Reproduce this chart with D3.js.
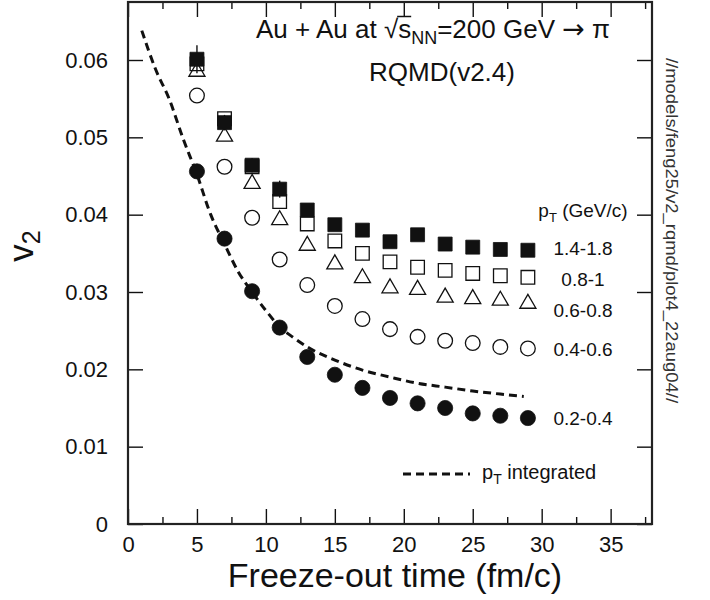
<!DOCTYPE html>
<html>
<head>
<meta charset="utf-8">
<script src="https://cdn.jsdelivr.net/npm/d3@7"></script>
<style>
  body { margin: 0; background: #fff; }
  svg { display: block; font-family: "Liberation Sans", Arial, Helvetica, sans-serif; }
</style>
</head>
<body>
<svg id="chart" width="710" height="600"></svg>
<script>
// freeze-out times (fm/c)
const times = [5, 7, 9, 11, 13, 15, 17, 19, 21, 23, 25, 27, 29]

// v2 per pT bin
const v2_14_18 = [0.0601, 0.0519, 0.0464, 0.0433, 0.0406, 0.0387, 0.0380, 0.0365, 0.0374, 0.0362, 0.0358, 0.0355, 0.0354]
const err_14_18 = [0.0018, 0.0010, 0.0009, 0.0011, 0.0007, 0.0006, 0.0006, 0.0006, 0.0006, 0.0006, 0.0006, 0.0006, 0.0006]
const v2_08_1 = [0.0595, 0.0524, 0.0462, 0.0417, 0.0388, 0.0366, 0.0350, 0.0339, 0.0332, 0.0328, 0.0324, 0.0321, 0.0319]
const v2_06_08 = [0.0585, 0.0501, 0.0440, 0.0393, 0.0360, 0.0336, 0.0318, 0.0305, 0.0303, 0.0293, 0.0291, 0.0289, 0.0285]
const v2_04_06 = [0.0554, 0.0462, 0.0396, 0.0342, 0.0309, 0.0282, 0.0265, 0.0252, 0.0242, 0.0237, 0.0234, 0.0229, 0.0227]
const v2_02_04 = [0.0456, 0.0369, 0.0301, 0.0254, 0.0216, 0.0193, 0.0176, 0.0163, 0.0156, 0.0150, 0.0143, 0.0140, 0.0137]

// pT integrated curve
const intTimes = [1, 2, 3, 4, 5, 6, 7, 8, 9, 10, 11, 12, 13, 15, 17, 19, 21, 23, 25, 27, 28.7]
const intV2 = [0.0638, 0.0588, 0.0549, 0.0498, 0.0452, 0.0400, 0.0362, 0.0326, 0.0300, 0.0276, 0.0255, 0.0241, 0.0229, 0.0212, 0.0199, 0.0190, 0.0182, 0.0177, 0.0172, 0.0168, 0.0165]

const ptLabels = ["1.4-1.8", "0.8-1", "0.6-0.8", "0.4-0.6", "0.2-0.4"]

const xTicks = [0, 5, 10, 15, 20, 25, 30, 35]
const xMinorTicks = [2.5, 7.5, 12.5, 17.5, 22.5, 27.5, 32.5, 37.5]
const yTicks = [0, 0.01, 0.02, 0.03, 0.04, 0.05, 0.06]
const yTickLabels = ["0", "0.01", "0.02", "0.03", "0.04", "0.05", "0.06"]

const ink = "#111"

const svg = d3.select("#chart")
const margin = {top: 2, right: 58, bottom: 76, left: 128}
const W = 710, H = 600

const x = d3.scaleLinear().domain([0, 38]).range([margin.left, W - margin.right])
const y = d3.scaleLinear().domain([0, 0.0675]).range([H - margin.bottom, margin.top])

const x0 = x.range()[0], x1 = x.range()[1]
const y0 = y.range()[0], y1 = y.range()[1]

// ticks pointing inward on all four sides
function ticks(axis, tr, vals, size) {
  svg.append("g")
    .attr("transform", tr)
    .call(axis.tickValues(vals).tickSize(size).tickFormat(""))
    .call(g => g.select(".domain").remove())
    .call(g => g.selectAll("line").attr("stroke", ink).attr("stroke-width", 1.4))
}
ticks(d3.axisTop(x), `translate(0,${y0})`, xTicks, 15)
ticks(d3.axisTop(x), `translate(0,${y0})`, xMinorTicks, 7)
ticks(d3.axisBottom(x), `translate(0,${y1})`, xTicks, 15)
ticks(d3.axisBottom(x), `translate(0,${y1})`, xMinorTicks, 7)
ticks(d3.axisRight(y), `translate(${x0},0)`, yTicks, 15)
ticks(d3.axisLeft(y), `translate(${x1},0)`, yTicks, 15)

// tick labels
svg.append("g")
  .attr("transform", `translate(0,${y0})`)
  .call(d3.axisBottom(x).tickValues(xTicks).tickSize(0).tickPadding(12))
  .call(g => g.select(".domain").remove())
  .call(g => g.selectAll("text").attr("font-size", 22).attr("fill", ink).attr("font-family", null))

svg.append("g")
  .attr("transform", `translate(${x0},0)`)
  .call(d3.axisLeft(y).tickValues(yTicks).tickSize(0).tickPadding(20).tickFormat((d, i) => yTickLabels[i]))
  .call(g => g.select(".domain").remove())
  .call(g => g.selectAll("text").attr("font-size", 22).attr("fill", ink).attr("font-family", null))

// frame
svg.append("rect")
  .attr("x", x0).attr("y", y1)
  .attr("width", x1 - x0).attr("height", y0 - y1)
  .attr("fill", "none").attr("stroke", "#222").attr("stroke-width", 2.2)

// axis titles
svg.append("text")
  .attr("x", 395).attr("y", 587)
  .attr("text-anchor", "middle").attr("font-size", 34).attr("fill", ink)
  .text("Freeze-out time (fm/c)")

const yt = svg.append("text")
  .attr("transform", "translate(33,246) rotate(-90)")
  .attr("text-anchor", "middle").attr("font-size", 35).attr("fill", ink)
yt.append("tspan").text("v")
yt.append("tspan").attr("font-size", 25).attr("dy", 7).text("2")

// title
const t1 = svg.append("text")
  .attr("x", 433).attr("y", 38)
  .attr("text-anchor", "middle").attr("font-size", 26).attr("fill", ink)
t1.append("tspan").text("Au + Au at \u221As")
t1.append("tspan").attr("font-size", 18).attr("dy", 6).text("NN")
t1.append("tspan").attr("dy", -6).text("=200 GeV ")
t1.append("tspan").attr("font-family", "DejaVu Sans").attr("font-size", 27).text("\u2192")
t1.append("tspan").text(" \u03C0")

// bar over the s of the square root
const tn = t1.node()
const eRoot = tn.getExtentOfChar(11), eS = tn.getExtentOfChar(12)
svg.append("line")
  .attr("x1", eRoot.x + eRoot.width - 1).attr("x2", eS.x + eS.width)
  .attr("y1", eRoot.y + 2.5).attr("y2", eRoot.y + 2.5)
  .attr("stroke", ink).attr("stroke-width", 1.5)

svg.append("text")
  .attr("x", 442).attr("y", 81)
  .attr("text-anchor", "middle").attr("font-size", 26).attr("fill", ink)
  .text("RQMD(v2.4)")

// side note
svg.append("text")
  .attr("transform", "translate(666,58) rotate(90)")
  .attr("font-size", 16).attr("fill", "#333")
  .attr("textLength", 345).attr("lengthAdjust", "spacingAndGlyphs")
  .text("//models/feng25/v2_rqmd/plot4_22aug04//")

// pT integrated dashed curve
const line = d3.line().x(d => x(d[0])).y(d => y(d[1])).curve(d3.curveMonotoneX)
svg.append("path")
  .datum(intTimes.map((t, i) => [t, intV2[i]]))
  .attr("d", line)
  .attr("fill", "none").attr("stroke", ink).attr("stroke-width", 3)
  .attr("stroke-dasharray", "8,5")

// markers
const series = [
  {vals: v2_02_04, shape: d3.symbolCircle, size: 180, fill: ink},
  {vals: v2_04_06, shape: d3.symbolCircle, size: 170, fill: "none"},
  {vals: v2_06_08, shape: d3.symbolTriangle, size: 112, fill: "none"},
  {vals: v2_08_1, shape: d3.symbolSquare, size: 185, fill: "none"},
  {vals: v2_14_18, shape: d3.symbolSquare, size: 195, fill: ink, err: err_14_18}
]

series.forEach(s => {
  if (s.err) {
    svg.append("g").selectAll("line")
      .data(times)
      .join("line")
      .attr("x1", d => x(d)).attr("x2", d => x(d))
      .attr("y1", (d, i) => y(s.vals[i] - s.err[i]))
      .attr("y2", (d, i) => y(s.vals[i] + s.err[i]))
      .attr("stroke", ink).attr("stroke-width", 1.4)
  }
  svg.append("g").selectAll("path")
    .data(times)
    .join("path")
    .attr("transform", (d, i) => `translate(${x(d)},${y(s.vals[i])})`)
    .attr("d", d3.symbol().type(s.shape).size(s.size))
    .attr("fill", s.fill)
    .attr("stroke", ink).attr("stroke-width", s.fill === "none" ? 1.3 : 0.8)
})

// legend
const lx = 583
const labelY = [255, 286, 317, 356, 425]
const hdr = svg.append("text")
  .attr("x", lx).attr("y", 217)
  .attr("text-anchor", "middle").attr("font-size", 19).attr("fill", ink)
hdr.append("tspan").text("p")
hdr.append("tspan").attr("font-size", 13).attr("dy", 5).text("T")
hdr.append("tspan").attr("dy", -5).text(" (GeV/c)")

svg.append("g").selectAll("text")
  .data(ptLabels)
  .join("text")
  .attr("x", lx).attr("y", (d, i) => labelY[i])
  .attr("text-anchor", "middle").attr("font-size", 19).attr("fill", ink)
  .text(d => d)

svg.append("line")
  .attr("x1", 403).attr("x2", 470).attr("y1", 474).attr("y2", 474)
  .attr("stroke", ink).attr("stroke-width", 3).attr("stroke-dasharray", "8,5")

const lg = svg.append("text")
  .attr("x", 482).attr("y", 479)
  .attr("font-size", 20).attr("fill", ink)
lg.append("tspan").text("p")
lg.append("tspan").attr("font-size", 14).attr("dy", 5).text("T")
lg.append("tspan").attr("dy", -5).text(" integrated")
</script>
</body>
</html>
